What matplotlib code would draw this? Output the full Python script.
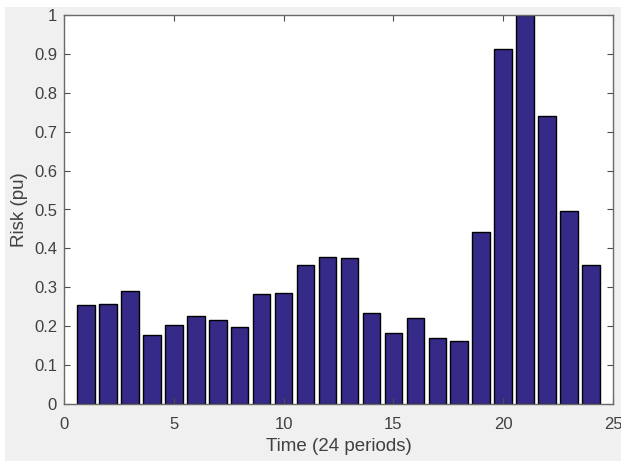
import matplotlib
matplotlib.use("Agg")
import matplotlib.pyplot as plt
from matplotlib.patches import Rectangle

periods = list(range(1, 25))
risk = [0.254, 0.258, 0.290, 0.178, 0.204, 0.227, 0.215, 0.198,
        0.284, 0.286, 0.358, 0.379, 0.375, 0.235, 0.182, 0.221,
        0.169, 0.163, 0.443, 0.912, 1.000, 0.740, 0.496, 0.358]
xticks = [0, 5, 10, 15, 20, 25]
yticks = [0, 0.1, 0.2, 0.3, 0.4, 0.5, 0.6, 0.7, 0.8, 0.9, 1]
ytick_labels = ["0", "0.1", "0.2", "0.3", "0.4", "0.5", "0.6", "0.7", "0.8", "0.9", "1"]

plt.rcParams['font.family'] = ['Liberation Sans', 'DejaVu Sans']

W, H = 621, 461
fig = plt.figure(figsize=(W / 100, H / 100), dpi=100, facecolor='white')
fig.patches.append(Rectangle((5 / W, 0), (W - 5) / W, (H - 7) / H,
                             transform=fig.transFigure, facecolor='#f0f0f0',
                             edgecolor='none', zorder=-10))

ax = fig.add_axes([64 / W, (H - 404) / H, (613 - 64) / W, (404 - 15) / H])
ax.set_facecolor('white')
ax.bar(periods, risk, width=0.8, color='#352a87', edgecolor='black', linewidth=1.0)
ax.set_xlim(0, 25)
ax.set_ylim(0, 1)
ax.set_xticks(xticks)
ax.set_yticks(yticks)
ax.set_yticklabels(ytick_labels)
ax.tick_params(direction='in', top=True, right=True, length=4, width=0.8,
               colors='#4d4d4d', labelcolor='#404040', labelsize=12)
ax.tick_params(axis='x', pad=9)
ax.tick_params(axis='y', pad=5)
for s in ax.spines.values():
    s.set_color('#6a6a6a')
    s.set_linewidth(1.0)
ax.set_xlabel('Time (24 periods)', fontsize=13.5, color='#404040', labelpad=5)
ax.set_ylabel('Risk (pu)', fontsize=13.5, color='#404040', labelpad=4)

fig.savefig('out.png', dpi=100, facecolor=fig.get_facecolor())
